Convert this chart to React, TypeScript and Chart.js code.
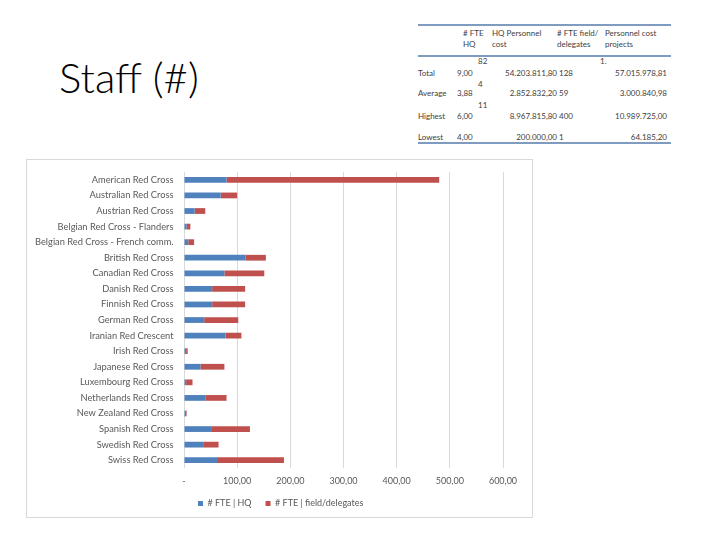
import React, { useEffect, useRef } from 'react';
import { Chart, registerables } from 'chart.js';

Chart.register(...registerables);

// chart data
const categories = [
  'American Red Cross',
  'Australian Red Cross',
  'Austrian Red Cross',
  'Belgian Red Cross - Flanders',
  'Belgian Red Cross - French comm.',
  'British Red Cross',
  'Canadian Red Cross',
  'Danish Red Cross',
  'Finnish Red Cross',
  'German Red Cross',
  'Iranian Red Crescent',
  'Irish Red Cross',
  'Japanese Red Cross',
  'Luxembourg Red Cross',
  'Netherlands Red Cross',
  'New Zealand Red Cross',
  'Spanish Red Cross',
  'Swedish Red Cross',
  'Swiss Red Cross',
];
const fteHq = [80, 69, 20, 5, 8, 116, 76, 53, 53, 38, 78, 4, 31, 4, 41, 4, 51, 36, 62];
const fteField = [400, 31, 20, 7, 11, 38, 75, 62, 62, 64, 30, 3, 45, 12, 39, 1, 73, 29, 126];
const xTickLabels = ['-', '100,00', '200,00', '300,00', '400,00', '500,00', '600,00'];

// summary table
const tableHeaders = [
  ['# FTE', 'HQ'],
  ['HQ Personnel', 'cost'],
  ['# FTE field/', 'delegates'],
  ['Personnel cost', 'projects'],
];
const rowLabels = ['Total', 'Average', 'Highest', 'Lowest'];
const hqFteTop = ['82', '4', '11', ''];
const hqFteCol = ['9,00', '3,88', '6,00', '4,00'];
const hqCostCol = ['54.203.811,80', '2.852.832,20', '8.967.815,80', '200.000,00'];
const fieldFteCol = ['128', '59', '400', '1'];
const fieldFteTop = ['1.', '', '', ''];
const projCostCol = ['57.015.978,81', '3.000.840,98', '10.989.725,00', '64.185,20'];

const rowY = [73, 93, 116, 137];
const topY = [61, 84, 105, 0];
const headerX = [463, 492, 557, 605];

const font = 'Lato, "Open Sans", sans-serif';
const tableText: React.CSSProperties = {
  position: 'absolute',
  fontFamily: font,
  fontSize: 8,
  lineHeight: '10px',
  color: '#404040',
  whiteSpace: 'nowrap',
};

const SummaryTable: React.FC = () => {
  const at = (x: number, y: number, text: string, right = false) => (
    <div
      key={`${x}-${y}-${text}`}
      style={{ ...tableText, top: y - 5, ...(right ? { right: 720 - x } : { left: x }) }}
    >
      {text}
    </div>
  );
  const line = (y: number) => (
    <div
      key={`l${y}`}
      style={{ position: 'absolute', left: 418, width: 253, top: y - 1, height: 2, background: '#7f9cc0' }}
    />
  );
  return (
    <>
      {line(25)}
      {line(56)}
      {line(143)}
      {tableHeaders.map((h, i) => [at(headerX[i], 33, h[0]), at(headerX[i], 44, h[1])])}
      {rowLabels.map((label, i) => [
        at(418, rowY[i], label),
        hqFteTop[i] ? at(478, topY[i], hqFteTop[i]) : null,
        at(457, rowY[i], hqFteCol[i]),
        at(557, rowY[i], hqCostCol[i], true),
        at(559, rowY[i], fieldFteCol[i]),
        fieldFteTop[i] ? at(600, topY[i], fieldFteTop[i]) : null,
        at(667, rowY[i], projCostCol[i], true),
      ])}
    </>
  );
};

const StaffChart: React.FC = () => {
  const chartRef = useRef<HTMLCanvasElement>(null);

  useEffect(() => {
    if (!chartRef.current) return;
    const ctx = chartRef.current.getContext('2d');
    if (!ctx) return;

    const myChart = new Chart(ctx, {
      type: 'bar',
      data: {
        labels: categories,
        datasets: [
          {
            label: '# FTE | HQ',
            data: fteHq,
            backgroundColor: '#4F81BD',
            barPercentage: 0.37,
            categoryPercentage: 1,
          },
          {
            label: '# FTE | field/delegates',
            data: fteField,
            backgroundColor: '#C0504D',
            barPercentage: 0.37,
            categoryPercentage: 1,
          },
        ],
      },
      options: {
        indexAxis: 'y',
        animation: false,
        responsive: false,
        layout: { padding: { left: 0, right: 29, top: 0, bottom: 0 } },
        plugins: {
          tooltip: { enabled: false },
          legend: {
            position: 'bottom',
            fullSize: false,
            align: 'start',
            labels: {
              boxWidth: 5,
              boxHeight: 5,
              padding: 14,
              color: '#595959',
              font: { family: font, size: 9 },
            },
          },
        },
        scales: {
          x: {
            stacked: true,
            min: 0,
            max: 600,
            ticks: {
              stepSize: 100,
              padding: 8,
              color: '#595959',
              font: { family: font, size: 9 },
              callback: (_v, i) => xTickLabels[i],
            },
            grid: { color: '#d9d9d9', drawTicks: false },
            border: { display: false },
            afterFit: (s) => {
              s.height = 17;
            },
          },
          y: {
            stacked: true,
            ticks: {
              autoSkip: false,
              padding: 10.5,
              color: '#595959',
              font: { family: font, size: 9.3 },
            },
            grid: { display: false, drawTicks: false },
            border: { display: false },
            afterFit: (s) => {
              s.width = 157;
            },
          },
        },
      },
    });

    return () => {
      myChart.destroy();
    };
  }, []);

  return (
    <div
      style={{
        position: 'absolute',
        left: 26,
        top: 159,
        width: 505,
        height: 357,
        border: '1px solid #d9d9d9',
      }}
    >
      <canvas
        ref={chartRef}
        width={505}
        height={362}
        style={{ position: 'absolute', left: 0, top: -4, display: 'block' }}
      />
    </div>
  );
};

const App: React.FC = () => (
  <div
    style={{
      position: 'fixed',
      left: 0,
      top: 0,
      width: 720,
      height: 540,
      background: '#fff',
      overflow: 'hidden',
    }}
  >
    <div
      style={{
        position: 'absolute',
        left: 59,
        top: 55.5,
        fontFamily: font,
        fontWeight: 300,
        fontSize: 42,
        lineHeight: '42px',
        color: '#000',
        whiteSpace: 'nowrap',
      }}
    >
      Staff (#)
    </div>
    <SummaryTable />
    <StaffChart />
  </div>
);

export default App;
